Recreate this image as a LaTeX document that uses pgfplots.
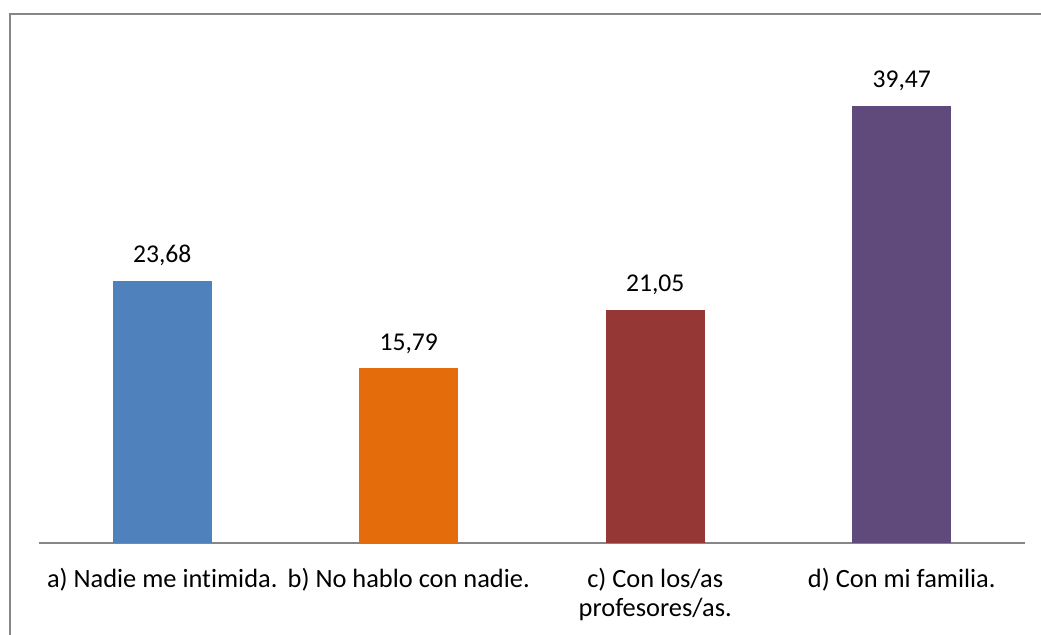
\documentclass[border=0pt]{standalone}
\usepackage{fontspec}
\setmainfont{Carlito}[Ligatures={NoCommon}]
\usepackage{pgfplots}
\pgfplotsset{compat=1.18}

\definecolor{barA}{HTML}{4F81BD}
\definecolor{barB}{HTML}{E46C0A}
\definecolor{barC}{HTML}{953735}
\definecolor{barD}{HTML}{604A7B}
\definecolor{frameGray}{HTML}{868686}

\begin{document}
\begin{tikzpicture}
  % outer chart frame (only left and top edges fall inside the picture)
  \draw[frameGray, line width=1.1pt] (5pt,-20pt) -- (5pt,310.5pt) -- (560pt,310.5pt);

  \begin{axis}[
      at={(19.5pt,46pt)}, anchor=south west,
      scale only axis,
      width=493pt, height=249.3pt,
      ybar, bar width=49.5pt, bar shift=0pt,
      xmin=-0.5, xmax=3.5,
      ymin=0, ymax=45,
      axis x line*=bottom,
      axis y line=none,
      x axis line style={-, draw=frameGray, line width=1pt},
      xtick={0,1,2,3},
      xticklabels={a) Nadie me intimida., b) No hablo con nadie., {c) Con los/as\\profesores/as.}, d) Con mi familia.},
      major tick length=0pt,
      xticklabel style={align=center, anchor=north, inner sep=0pt, yshift=-12.5pt,
                        font=\fontsize{13.2}{14.5}\selectfont},
      nodes near coords,
      nodes near coords style={anchor=base, yshift=9pt, inner sep=0pt,
                        font=\fontsize{12.8}{14.5}\selectfont, text=black},
      /pgf/number format/.cd, use comma, fixed, fixed zerofill, precision=2,
        assume math mode=true,
      /pgfplots/.cd,
      clip=false,
    ]
    \addplot[fill=barA, draw=none] coordinates {(0,23.68)};
    \addplot[fill=barB, draw=none] coordinates {(1,15.79)};
    \addplot[fill=barC, draw=none] coordinates {(2,21.05)};
    \addplot[fill=barD, draw=none] coordinates {(3,39.47)};
  \end{axis}

  \pgfresetboundingbox
  \path[use as bounding box] (0,0) rectangle (520.5pt,317.5pt);
\end{tikzpicture}
\end{document}
